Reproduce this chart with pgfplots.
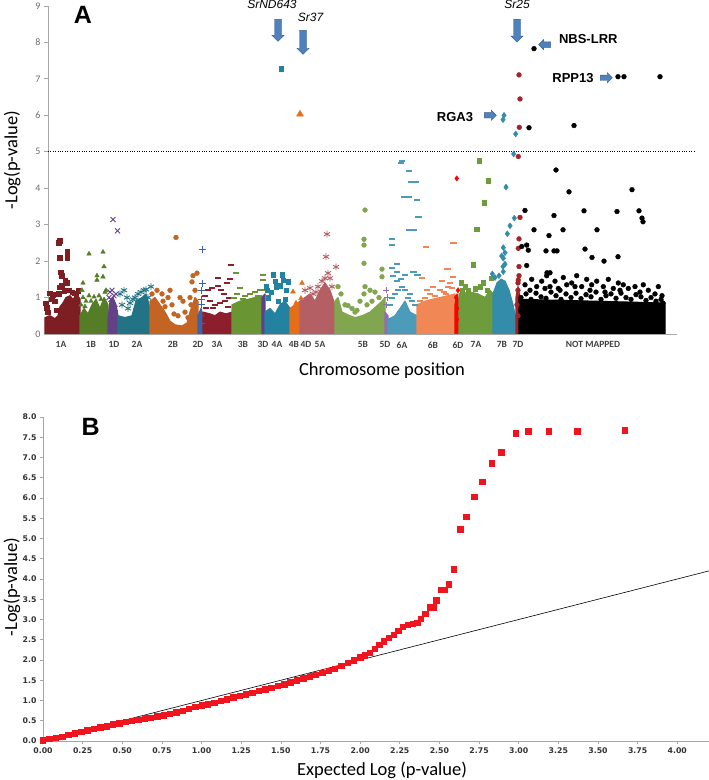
\documentclass[border=0pt]{standalone}
\usepackage{pgfplots}
\pgfplotsset{compat=1.18}
\usepackage{fontspec}
\setmainfont{Carlito}
\newfontfamily\lib{Liberation Sans}
\newfontfamily\dvs{DejaVu Sans}
\usetikzlibrary{shapes.arrows}
\definecolor{c1A}{RGB}{125,30,35}
\definecolor{c1B}{RGB}{85,125,40}
\definecolor{c1D}{RGB}{100,65,135}
\definecolor{c2A}{RGB}{35,115,135}
\definecolor{c2B}{RGB}{195,100,35}
\definecolor{c2D}{RGB}{55,100,170}
\definecolor{c3A}{RGB}{140,30,45}
\definecolor{c3B}{RGB}{105,150,50}
\definecolor{c3D}{RGB}{100,60,140}
\definecolor{c4A}{RGB}{35,130,160}
\definecolor{c4B}{RGB}{230,110,25}
\definecolor{c5A}{RGB}{180,95,100}
\definecolor{c5B}{RGB}{130,165,80}
\definecolor{c5D}{RGB}{145,110,175}
\definecolor{c6A}{RGB}{75,155,185}
\definecolor{c6B}{RGB}{240,135,85}
\definecolor{c6D}{RGB}{255,0,0}
\definecolor{c7A}{RGB}{110,155,60}
\definecolor{c7B}{RGB}{50,140,170}
\definecolor{c7D}{RGB}{165,35,40}
\definecolor{arrfill}{RGB}{79,129,189}
\definecolor{arrdraw}{RGB}{56,93,138}
\definecolor{qqred}{RGB}{240,20,30}
\pgfplotsset{
 mk/.style={only marks, color=#1, mark options={solid, fill=#1, draw=#1}},
 dash/.style={only marks, color=#1, mark=-, mark size=3.2pt, mark options={solid, draw=#1, line width=2pt}},
 lin/.style={only marks, color=#1, mark options={solid, draw=#1, line width=0.9pt}},
 base/.style={fill=#1, draw=#1, line width=1.2pt, line join=round, forget plot},
}
\tikzset{
 barrow/.style={single arrow, fill=arrfill, draw=arrdraw, line width=0.4pt, inner xsep=0pt, inner ysep=3.3pt,
   single arrow head extend=2.6pt, minimum width=0pt, minimum height=#1, rotate=-90},
 sarrow/.style={single arrow, fill=arrfill, draw=arrdraw, line width=0.4pt, inner xsep=0pt, inner ysep=2.5pt,
   single arrow head extend=2.4pt, minimum width=0pt, minimum height=12pt},
}
\begin{document}
\begin{tikzpicture}
\path[use as bounding box] (0pt,0pt) rectangle (709pt,780pt);
% ---------------- Panel A ----------------
\begin{axis}[
 at={(48pt,446pt)}, anchor=south west, scale only axis, width=629pt, height=328pt,
 xmin=48, xmax=677, ymin=0, ymax=9, clip=false,
 axis lines=left, axis line style={-, draw=gray!70, line width=0.8pt},
 ytick={0,1,2,3,4,5,6,7,8,9}, tick align=outside, major tick length=4pt,
 ytick style={draw=gray!70, line width=0.8pt},
 yticklabel style={font=\fontsize{10}{11}\selectfont, text=gray!85!black},
 xtick={61,91,114,137,173,198,217,243,263,277,294,306,320,363,385,402,433,458,476,502,518,593},
 xticklabels={1A,1B,1D,2A,2B,2D,3A,3B,3D,4A,4B,4D,5A,5B,5D,6A,6B,6D,7A,7B,7D,NOT MAPPED},
 xtick style={draw=none},
 xticklabel style={font=\bfseries\fontsize{9.5}{10}\selectfont, text=black!75},
 ylabel={-Log(p-value)}, ylabel style={at={(axis description cs:-0.057,0.53)}, anchor=center, font=\fontsize{18.5}{20}\selectfont},
 xlabel={Chromosome position}, xlabel style={at={(axis description cs:0.531,-0.11)}, anchor=center, font=\fontsize{18.5}{20}\selectfont},
 /pgf/number format/assume math mode=true,
]
% 1A
\addplot[base=c1A] coordinates {(45,0)(45,0.45)(50,0.5)(55,0.42)(58,0.5)(60,0.75)(63,0.85)(66,1.0)(70,1.05)(73,0.95)(77,1.1)(80,0.95)(80,0)};
\addplot[mk=c1A, mark=square*, mark size=2.3pt] coordinates {(46,0.85)(47,0.72)(48,0.6)(50,1.12)(53,1.08)(55,0.9)(57,0.65)(52,0.95)(59,1.1)(60,1.28)(62,1.34)(65,1.48)(67,1.4)(61,1.7)(62,1.6)(60,2.1)(67,2.1)(67,2.25)(59,2.5)(60,2.56)(72,1.15)(76,1.08)(78,1.18)(74,1.12)(69,1.2)(64,1.18)};
% 1B
\addplot[base=c1B] coordinates {(80,0)(80,0.5)(84,0.7)(88,0.55)(92,0.8)(96,0.95)(100,0.7)(104,1.0)(108,0.8)(108,0)};
\addplot[mk=c1B, mark=triangle*, mark size=2.6pt] coordinates {(81,0.8)(83,1.0)(82,1.2)(83,1.4)(86,0.9)(89,1.05)(89,2.2)(97,1.6)(97,1.48)(103,1.57)(103,2.25)(104,1.85)(105,1.15)(106,1.2)(94,1.02)(99,1.05)(91,0.9)(101,0.95)(85,0.75)};
% 1D
\addplot[base=c1D] coordinates {(108,0)(108,0.4)(110,0.9)(113,1.0)(116,0.8)(118,0.5)(118,0)};
\addplot[lin=c1D, mark=x, mark size=3.5pt] coordinates {(110,1.15)(112,1.2)(114,1.05)(111,0.95)(113,3.14)(117.5,2.83)(116,1.1)(109,1.0)(115,0.7)};
% 2A
\addplot[base=c2A] coordinates {(118,0)(118,0.5)(125,0.45)(132,0.5)(136,0.9)(142,1.0)(146,1.1)(150,0.7)(150,0)};
\addplot[lin=c2A, mark=asterisk, mark size=3.5pt] coordinates {(120,1.1)(124,1.2)(127,1.0)(130,0.85)(135,1.0)(138,1.1)(141,1.15)(144,1.2)(148,1.0)(151,1.3)(122,0.8)(128,0.7)(133,0.95)(139,0.9)(146,1.22)};
% 2B
\addplot[base=c2B] coordinates {(150,0)(150,0.9)(155,1.0)(160,0.8)(165,0.6)(170,0.35)(175,0.25)(182,0.22)(187,0.3)(190,0.6)(195,1.0)(198,0.9)(198,0)};
\addplot[mk=c2B, mark=*, mark size=2.4pt] coordinates {(152,1.1)(157,1.2)(162,1.1)(168,1.0)(170,1.2)(176,2.65)(172,0.8)(178,0.5)(180,1.0)(183,0.9)(185,0.6)(188,0.45)(190,1.0)(192,1.43)(193,1.6)(197,1.67)(195,1.2)(160,0.6)(165,0.75)(174,0.55)(163,0.9)(191,0.8)};
% 2D
\addplot[base=c2D] coordinates {(198,0)(198,0.5)(201,0.7)(203,0.5)(203,0)};
\addplot[lin=c2D, mark=+, mark size=3.5pt] coordinates {(201,0.8)(201,0.96)(201,1.2)(202,1.38)(202,2.32)(200,0.5)(201,0.3)};
% 3A
\addplot[base=c3A] coordinates {(203,0)(203,0.6)(210,0.55)(215,0.5)(220,0.6)(226,0.55)(232,0.6)(232,0)};
\addplot[dash=c3A] coordinates {(206,0.7)(208,1.2)(212,1.25)(215,0.8)(218,1.32)(218,1.53)(221,1.2)(224,1.1)(227,1.4)(229,1.0)(230,1.5)(231,1.88)(225,0.9)(210,0.9)(213,0.7)(220,0.85)(228,0.75)(205,1.05)};
% 3B
\addplot[base=c3B] coordinates {(232,0)(232,0.8)(240,0.9)(248,0.95)(255,1.0)(262,1.05)(262,0)};
\addplot[dash=c3B] coordinates {(236,1.67)(240,1.26)(237,1.1)(245,1.05)(250,1.1)(255,1.15)(260,1.2)(243,0.95)(234,1.0)(252,0.9)(258,1.05)};
% 3D
\addplot[base=c3D] coordinates {(262,0)(262,1.0)(265,1.1)(265,0)};
\addplot[dash=c3B] coordinates {(263,1.62)(263,1.48)(264,1.2)};
% 4A
\addplot[base=c4A] coordinates {(265,0)(265,0.6)(270,0.7)(275,0.55)(280,0.8)(285,0.9)(290,0.7)(290,0)};
\addplot[mk=c4A, mark=square*, mark size=2.3pt] coordinates {(267,1.2)(268,1.0)(271,1.15)(273,1.62)(275,1.45)(276,1.3)(280,1.32)(282,1.62)(283,1.48)(286,1.2)(288,1.43)(285,0.95)(278,0.9)(266,1.3)(281,7.28)};
% 4B
\addplot[base=c4B] coordinates {(290,0)(290,0.7)(295,0.8)(300,0.9)(300,0)};
\addplot[mk=c4B, mark=triangle*, mark size=2.8pt] coordinates {(293,1.16)(301,0.98)(302,1.4)(296,0.85)};
\addplot[mk=c4B, mark=triangle*, mark size=4pt] coordinates {(300,6.03)};
% 4D / 5A
\addplot[base=c5A] coordinates {(300,0)(300,0.9)(305,1.0)(310,1.1)(315,0.9)(320,1.2)(325,1.4)(330,1.2)(335,0.8)(335,0)};
\addplot[lin=c5A, mark=asterisk, mark size=3.5pt] coordinates {(305,1.2)(310,1.26)(313,1.1)(318,1.3)(322,1.45)(325,1.53)(328,1.67)(330,1.53)(326,2.12)(327,2.74)(336,1.84)(332,1.3)(308,0.9)(316,1.15)};
% 5B
\addplot[base=c5B] coordinates {(335,0)(335,0.9)(338,1.0)(342,0.6)(346,0.55)(350,0.5)(355,0.45)(362,0.5)(370,0.6)(376,0.75)(382,0.9)(385,1.0)(385,0)};
\addplot[mk=c5B, mark=*, mark size=2.4pt] coordinates {(338,1.3)(341,1.1)(345,0.8)(348,0.78)(352,0.7)(357,0.65)(360,0.9)(364,1.1)(365,1.3)(364,1.94)(364,2.44)(364,2.6)(365,3.4)(370,1.2)(375,1.15)(379,1.0)(382,1.57)(382,1.78)(372,0.9)(367,0.8)(355,0.6)};
% 5D
\addplot[base=c5D] coordinates {(385,0)(385,0.6)(388,0.5)(388,0)};
\addplot[lin=c5D, mark=+, mark size=3.2pt] coordinates {(386,0.8)(387,1.0)(386,1.2)(387,0.4)};
% 6A
\addplot[base=c6A] coordinates {(388,0)(388,0.4)(395,0.5)(400,0.7)(405,0.9)(410,0.6)(417,0.5)(417,0)};
\addplot[dash=c6A] coordinates {(390,0.8)(392,1.0)(395,1.1)(398,1.2)(402,1.3)(405,1.2)(408,1.0)(412,0.9)(415,0.8)(391.7,2.43)(391.7,2.6)(393,1.6)(397,1.45)(401,1.5)(405,1.62)(391.7,1.8)(396.7,1.71)(396.7,1.92)(413.3,1.71)(417.3,1.62)(409,2.84)(413.3,2.84)(418.3,3.2)(404,3.75)(409,3.75)(416.7,3.68)(410.7,4.17)(415.7,4.17)(409,4.46)(401.7,4.76)(400.7,4.7)(400,0.6)(410,1.1)};
% 6B
\addplot[base=c6B] coordinates {(417,0)(417,0.8)(425,0.9)(432,0.95)(440,1.0)(448,1.05)(455,1.1)(455,0)};
\addplot[dash=c6B] coordinates {(420,0.9)(425,1.0)(430,1.1)(435,1.05)(440,1.2)(444,1.15)(448,1.3)(452,1.25)(450,1.4)(446,1.1)(438,0.95)(427,1.2)(421.7,1.53)(447.3,1.78)(452.7,1.56)(425.7,2.38)(453.3,2.51)(442,1.45)(433,1.3)};
% 6D
\addplot[base=c6D] coordinates {(455,0)(455,0.8)(457,1.1)(459,0.9)(459,0)};
\addplot[mk=c6D, mark=diamond*, mark size=2.6pt] coordinates {(457,0.4)(457,0.7)(456,1.0)(458,1.2)(456.7,4.27)};
% 7A
\addplot[base=c7A] coordinates {(459,0)(459,1.1)(470,1.15)(478,1.1)(485,1.0)(490,1.2)(493,1.1)(493,0)};
\addplot[mk=c7A, mark=square*, mark size=2.3pt] coordinates {(461,1.4)(465,1.3)(473.3,1.9)(476.7,2.88)(479,4.75)(484.3,3.61)(488.3,4.21)(483,1.4)(491,1.53)(468,1.2)(475,1.25)(480,1.3)(487,1.2)(462,1.2)};
% 7B
\addplot[base=c7B] coordinates {(493,0)(493,1.1)(497,1.4)(501,1.5)(505,1.45)(509,1.2)(513,0.8)(516,0.4)(516,0)};
\addplot[mk=c7B, mark=diamond*, mark size=3pt] coordinates {(495,1.55)(492.3,1.65)(499,1.6)(503.3,1.71)(503,1.85)(505,1.92)(503.3,2.08)(501.7,2.14)(505,2.23)(503.3,2.37)(507.3,2.75)(510,2.97)(514.3,3.18)(506,4.03)(513.7,4.94)(515.7,5.49)(504,6.0)(503,5.88)(507,1.0)(511,0.6)(498,1.3)};
% 7D
\addplot[base=c7D] coordinates {(516,0)(516,1.0)(518,1.3)(520,1.0)(520,0)};
\addplot[mk=c7D, mark=*, mark size=2.4pt] coordinates {(518,1.4)(519,1.6)(519,1.85)(518.3,2.35)(519,2.61)(520,3.2)(518.3,4.87)(519.3,5.67)(520,6.45)(519,7.11)(518,1.2)(517,0.8)(518,0.5)(518.3,1.48)};
% Not mapped
\addplot[base=black] coordinates {(519,0)(519,0.95)(665,0.85)(665,0)};
\addplot[mk=black, mark=*, mark size=2.4pt] coordinates {(521,1.0)(526,1.1)(531,0.95)(536,1.12)(541,1.02)(546,0.98)(551,1.15)(556,1.05)(561,0.95)(566,1.1)(571,1.0)(576,1.12)(581,0.97)(586,1.08)(591,1.02)(596,1.15)(601,0.95)(606,1.05)(611,1.1)(616,0.98)(621,1.12)(626,1.0)(631,0.95)(636,1.08)(641,1.02)(646,0.92)(651,1.0)(656,0.9)(661,0.95)(663,0.85)
(525,1.35)(531.7,1.5)(536.7,1.3)(541.7,1.45)(546.7,1.6)(550,1.3)(555,1.45)(558.3,1.25)(563.3,1.55)(566.7,1.35)(571.7,1.4)(576.7,1.6)(581.7,1.3)(586.7,1.5)(591.7,1.35)(596.7,1.45)(603.3,1.3)(608.3,1.5)(613.3,1.25)(618.3,1.4)(623.3,1.35)(628.3,1.25)(635,1.3)(643.3,1.35)(648.3,1.2)(658.3,1.3)(530,1.2)(545,1.25)(560,1.2)(575,1.3)(590,1.2)(605,1.15)(620,1.2)(640,1.15)(655,1.1)(662,1.05)
(534,7.83)(529,5.66)(574,5.72)(618,7.06)(624,7.06)(660,7.06)(556,4.5)(569,3.9)(632,3.96)(525,3.39)(554,3.25)(584,3.38)(617,3.36)(639,3.38)(642,3.18)(643,3.08)(534,2.86)(549,2.7)(563,2.86)(597,2.86)(521.7,2.4)(526.7,2.44)(528.3,2.3)(546,2.28)(554,2.28)(557,2.28)(585,2.33)(592,2.1)(604,2.0)(618,2.12)(526.7,1.88)(547,1.68)(550,1.68)};
% threshold
\addplot[black, line width=0.7pt, dash pattern=on 0.8pt off 1.6pt, forget plot] coordinates {(48,5)(695,5)};
% annotations
\node[font=\lib\bfseries\fontsize{25}{26}\selectfont] at (axis cs:83,8.76) {A};
\node[barrow=22pt] at (axis cs:278,8.38) {};
\node[barrow=24pt] at (axis cs:303,8.05) {};
\node[barrow=23pt] at (axis cs:517,8.37) {};
\node[font=\lib\itshape\fontsize{12}{13}\selectfont] at (axis cs:272,9.04) {SrND643};
\node[font=\lib\itshape\fontsize{12}{13}\selectfont] at (axis cs:310.5,8.70) {Sr37};
\node[font=\lib\itshape\fontsize{12}{13}\selectfont] at (axis cs:517,9.04) {Sr25};
\node[sarrow, shape border rotate=180] at (axis cs:546,7.94) {};
\node[sarrow] at (axis cs:605,7.03) {};
\node[sarrow] at (axis cs:489,6.0) {};
\node[font=\lib\bfseries\fontsize{13}{14}\selectfont] at (axis cs:588.3,8.10) {NBS-LRR};
\node[font=\lib\bfseries\fontsize{13}{14}\selectfont] at (axis cs:573,7.03) {RPP13};
\node[font=\lib\bfseries\fontsize{13}{14}\selectfont] at (axis cs:455,5.96) {RGA3};
\end{axis}
% ---------------- Panel B ----------------
\begin{axis}[
 at={(43pt,39pt)}, anchor=south west, scale only axis, width=666pt, height=324pt,
 xmin=0, xmax=4.2, ymin=0, ymax=8, clip=false,
 axis lines=left, axis line style={-, draw=gray!70, line width=0.8pt},
 xtick={0,0.25,0.5,0.75,1,1.25,1.5,1.75,2,2.25,2.5,2.75,3,3.25,3.5,3.75,4},
 ytick={0,0.5,1,1.5,2,2.5,3,3.5,4,4.5,5,5.5,6,6.5,7,7.5,8},
 tick align=outside, major tick length=3pt,
 tick style={draw=gray!70, line width=0.6pt},
 ticklabel style={font=\dvs\bfseries\fontsize{7.8}{9}\selectfont, text=black!80},
 xticklabel style={/pgf/number format/.cd, fixed, fixed zerofill, precision=2},
 yticklabel style={/pgf/number format/.cd, fixed, fixed zerofill, precision=1},
 /pgf/number format/assume math mode=true,
 ylabel={-Log(p-value)}, ylabel style={at={(axis description cs:-0.0465,0.475)}, anchor=center, font=\fontsize{18.5}{20}\selectfont},
 xlabel={Expected Log (p-value)}, xlabel style={at={(axis description cs:0.509,-0.0895)}, anchor=center, font=\fontsize{18.5}{20}\selectfont},
]
\addplot[only marks, mark=square*, mark size=2.7pt, color=qqred, mark options={solid, fill=qqred, draw=qqred}] coordinates {
(0.00,0.02)(0.04,0.05)(0.08,0.08)(0.12,0.11)(0.16,0.15)(0.20,0.19)(0.24,0.23)(0.28,0.27)(0.32,0.30)(0.36,0.34)
(0.40,0.37)(0.44,0.41)(0.48,0.44)(0.52,0.47)(0.56,0.50)(0.60,0.53)(0.64,0.56)(0.68,0.58)(0.72,0.61)(0.76,0.64)
(0.80,0.67)(0.84,0.71)(0.88,0.75)(0.92,0.80)(0.96,0.84)(1.00,0.88)(1.04,0.91)(1.08,0.95)(1.12,0.99)(1.16,1.03)
(1.20,1.08)(1.24,1.12)(1.28,1.16)(1.32,1.20)(1.36,1.24)(1.40,1.28)(1.44,1.32)(1.48,1.36)(1.52,1.40)(1.56,1.45)
(1.60,1.50)(1.64,1.55)(1.68,1.60)(1.72,1.64)(1.76,1.68)(1.80,1.73)(1.84,1.79)(1.88,1.86)(1.92,1.93)(1.96,2.00)
(2.00,2.07)(2.03,2.12)(2.06,2.18)(2.09,2.28)(2.12,2.38)(2.15,2.46)(2.18,2.55)(2.21,2.63)(2.24,2.72)(2.27,2.82)
(2.30,2.87)(2.33,2.90)(2.36,2.92)(2.38,3.02)(2.41,3.15)(2.44,3.30)(2.46,3.30)(2.48,3.48)(2.51,3.74)(2.53,3.74)
(2.56,3.87)(2.59,4.24)(2.63,5.23)(2.67,5.54)(2.72,6.03)(2.77,6.40)(2.83,6.86)(2.89,7.13)(2.98,7.60)(3.06,7.65)
(3.19,7.65)(3.37,7.65)(3.67,7.67)};
\addplot[black, line width=0.6pt] coordinates {(0,0)(4.2,4.2)};
\node[font=\lib\bfseries\fontsize{25}{26}\selectfont] at (axis cs:0.30,7.75) {B};
\end{axis}
\end{tikzpicture}
\end{document}
